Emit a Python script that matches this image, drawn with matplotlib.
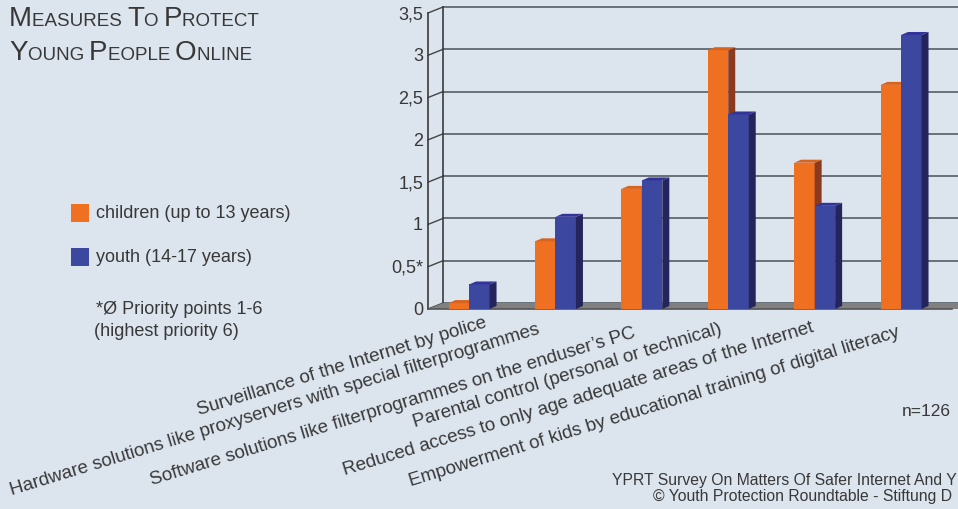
"""
Measures to protect young people online - 3D-looking grouped column chart.
"""
import matplotlib
matplotlib.use("Agg")
import matplotlib.pyplot as plt
from matplotlib.patches import Polygon, Rectangle

categories = [
    "Surveillance of the Internet by police",
    "Hardware solutions like proxyservers with special filterprogrammes",
    "Software solutions like filterprogrammes on the enduser\u2019s PC",
    "Parental control (personal or technical)",
    "Reduced access to only age adequate areas of the Internet",
    "Empowerment of kids by educational training of digital literacy",
]
children = [0.07, 0.80, 1.42, 3.06, 1.73, 2.65]
youth = [0.29, 1.09, 1.52, 2.30, 1.22, 3.24]
series_labels = ["children (up to 13 years)", "youth (14-17 years)"]
yticks = [0, 0.5, 1, 1.5, 2, 2.5, 3, 3.5]
ytick_labels = ["0", "0,5*", "1", "1,5", "2", "2,5", "3", "3,5"]
note_lines = ["*\u00d8 Priority points 1-6", "(highest priority 6)"]
title_words = [["Measures", "To", "Protect"], ["Young", "People", "Online"]]
sample_note = "n=126"
footer_lines = ["YPRT Survey On Matters Of Safer Internet And Y",
                "\u00a9 Youth Protection Roundtable - Stiftung D"]

# small pixel nudges for the rotated labels (end x, baseline y below axis)
label_dx = [19, -15, -6, -6, 0, -1]
label_dy = [18, 25, 28, 24, 23, 27]

BG = "#dce4ee"
TXT = "#383838"
ORANGE = ("#f07021", "#d9621c", "#8a3a1e")   # front, top, side
BLUE = ("#3c47a0", "#32349a", "#23255c")
GRID = "#6a7077"
FONT = "Liberation Sans"

W, H = 958, 509
fig = plt.figure(figsize=(W / 100, H / 100), dpi=100)
fig.patch.set_facecolor(BG)


def fx(px):
    return px / W


def fy(py):
    return 1 - py / H


# axes placed so the front plane matches the reference pixels
ax_l, ax_r, ax_b, ax_t = 428, 952, 309, 13
ax = fig.add_axes([fx(ax_l), fy(ax_b), (ax_r - ax_l) / W, (ax_b - ax_t) / H])
ax.set_facecolor("none")
xmin, xmax = -0.475, 5.59
ax.set_xlim(xmin, xmax)
ax.set_ylim(0, 3.5)
ax.axis("off")

ppx = (ax_r - ax_l) / (xmax - xmin)   # pixels per x unit
ppy = (ax_b - ax_t) / 3.5             # pixels per y unit
dx, dy = 15 / ppx, 6 / ppy            # wall depth
bdx, bdy = 7 / ppx, 3 / ppy           # bar depth
bw = 20.5 / ppx

# back wall grid + left wall
xfar = xmax + 0.4
for y in yticks:
    ax.plot([xmin + dx, xfar], [y + dy, y + dy], color=GRID, lw=1.4,
            clip_on=False, zorder=1)
    ax.plot([xmin, xmin + dx], [y, y + dy], color="#444444", lw=1.0,
            clip_on=False, zorder=1)
ax.plot([xmin + dx, xmin + dx], [dy, 3.5 + dy], color="#3a3a3a", lw=1.2,
        clip_on=False, zorder=1)
ax.plot([xmin, xmin], [0, 3.5], color="#3a3a3a", lw=1.2, clip_on=False, zorder=1)

# floor
ax.add_patch(Polygon([(xmin, 0), (xfar, 0), (xfar + dx, dy), (xmin + dx, dy)],
                     closed=True, facecolor="#808080", edgecolor="none",
                     clip_on=False, zorder=2))
ax.plot([xmin, xmax], [0, 0], color="#555555", lw=1.2, clip_on=False, zorder=2)

for t, lab in zip(yticks, ytick_labels):
    ax.text(xmin - 5 / ppx, t - 1.5 / ppy, lab, ha="right", va="center",
            fontsize=13, family=FONT, color=TXT)


def bar3d(x0, h, cols, z):
    front, top, side = cols
    ax.bar(x0, h, bw, align="edge", color=front, zorder=z, linewidth=0)
    ax.add_patch(Polygon([(x0 + bw, 0), (x0 + bw + bdx, bdy),
                          (x0 + bw + bdx, h + bdy), (x0 + bw, h)],
                         closed=True, facecolor=side, edgecolor="none", zorder=z))
    ax.add_patch(Polygon([(x0, h), (x0 + bw, h), (x0 + bw + bdx, h + bdy),
                          (x0 + bdx, h + bdy)],
                         closed=True, facecolor=top, edgecolor="none", zorder=z))


for i, (c, yv) in enumerate(zip(children, youth)):
    bar3d(i - bw, c, ORANGE, 3 + 2 * i)
    bar3d(i, yv, BLUE, 4 + 2 * i)

# rotated category labels
for i, lab in enumerate(categories):
    ax.text(i + label_dx[i] / ppx, -label_dy[i] / ppy, lab, rotation=17,
            rotation_mode="anchor", ha="right", va="baseline", fontsize=13.5,
            family=FONT, color=TXT, clip_on=False)

# title in small caps
renderer = fig.canvas.get_renderer()
for line, base in zip(title_words, [26, 60]):
    x = 9
    for word in line:
        for part, size in [(word[0].upper(), 20), (word[1:].upper() + " ", 13.5)]:
            t = fig.text(fx(x), fy(base), part, fontsize=size, family=FONT,
                         color=TXT, va="baseline", ha="left")
            x += t.get_window_extent(renderer).width

# legend
for col, lab, yc in zip([ORANGE[0], BLUE[0]], series_labels, [213, 257]):
    fig.add_artist(Rectangle((fx(71), fy(yc + 9)), 18 / W, 18 / H,
                             transform=fig.transFigure, facecolor=col,
                             edgecolor="none"))
    fig.text(fx(96), fy(yc), lab, fontsize=13, family=FONT, color=TXT,
             va="center", ha="left")

for lab, xx, yc in zip(note_lines, [96, 94], [310, 332]):
    fig.text(fx(xx), fy(yc), lab, fontsize=13, family=FONT, color=TXT,
             va="center", ha="left")

fig.text(fx(902), fy(412), sample_note, fontsize=12.5, family=FONT, color=TXT,
         va="center", ha="left")
for lab, xx, yc in zip(footer_lines, [612, 653], [480, 497]):
    fig.text(fx(xx), fy(yc), lab, fontsize=11.3, family=FONT, color=TXT,
             va="center", ha="left")

fig.savefig("out.png", dpi=100, facecolor=BG)
